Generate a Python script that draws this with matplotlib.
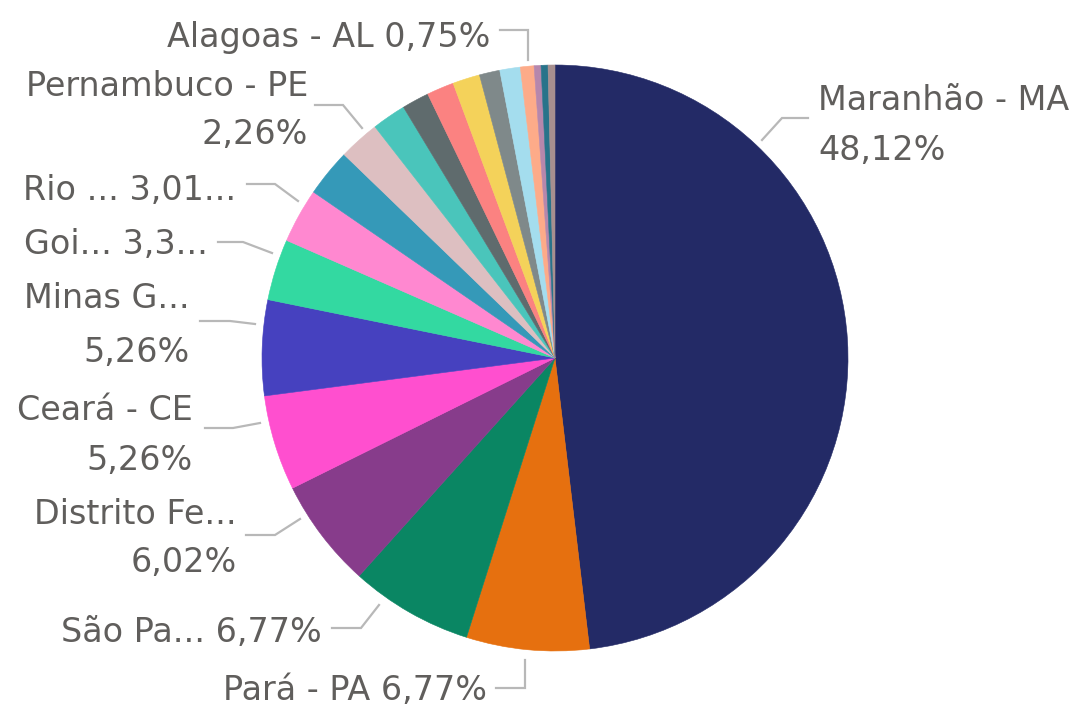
import matplotlib
matplotlib.use("Agg")
import matplotlib.pyplot as plt

# ---------------- data ----------------
states = ["Maranhão - MA", "Pará - PA", "São Paulo - SP", "Distrito Federal - DF",
          "Ceará - CE", "Minas Gerais - MG", "Goiás - GO", "Rio de Janeiro - RJ",
          "UF 9", "Pernambuco - PE", "UF 11", "UF 12", "UF 13", "UF 14", "UF 15",
          "UF 16", "Alagoas - AL", "UF 18", "UF 19", "UF 20"]
percent = [48.12, 6.77, 6.77, 6.02, 5.26, 5.26, 3.38, 3.01, 2.63, 2.26,
           1.88, 1.50, 1.50, 1.50, 1.13, 1.13, 0.75, 0.38, 0.38, 0.38]
colors = ["#232A66", "#E6700F", "#0A8663", "#873C8B", "#FF4FCF", "#4641BF",
          "#33D9A1", "#FF88D0", "#3599B8", "#DDBFC1", "#4AC5BB", "#5F6B6D",
          "#FB8281", "#F4D25A", "#7F898A", "#A4DDEE", "#FDAB89", "#B687AC",
          "#28738A", "#A78F8F"]
# displayed (truncated) label lines, per slice index
label_lines = {
    0: ["Maranhão - MA", "48,12%"],
    1: ["Pará - PA 6,77%"],
    2: ["São Pa... 6,77%"],
    3: ["Distrito Fe...", "6,02%"],
    4: ["Ceará - CE", "5,26%"],
    5: ["Minas G...", "5,26%"],
    6: ["Goi... 3,3..."],
    7: ["Rio ... 3,01..."],
    9: ["Pernambuco - PE", "2,26%"],
    16: ["Alagoas - AL 0,75%"],
}

# ---------------- layout (pixel coordinates, y from top) ----------------
W, H = 1085, 709
CENTER = (555, 358)
RADIUS = 293
# text anchor: (x, [y per line], ha)
text_pos = {
    0: (818, [101, 150], "left"),
    1: (487, [690], "right"),
    2: (322, [632], "right"),
    3: (237, [514, 563], "right"),
    4: (193, [410, 461], "right"),
    5: (190, [299, 352], "right"),
    6: (208, [245], "right"),
    7: (236, [190], "right"),
    9: (308, [86, 135], "right"),
    16: (490, [37], "right"),
}
leaders = {
    0: [(808, 118), (782, 118), (762, 140)],
    1: [(496, 688), (525, 688), (525, 660)],
    2: [(332, 628), (361, 628), (379, 605)],
    3: [(246, 535), (275, 535), (300, 519)],
    4: [(205, 428), (233, 428), (260, 423)],
    5: [(200, 321), (230, 321), (255, 324)],
    6: [(218, 242), (243, 242), (272, 253)],
    7: [(247, 184), (275, 184), (298, 201)],
    9: [(315, 105), (343, 105), (362, 128)],
    16: [(500, 30), (528, 30), (528, 60)],
}
TEXT_COLOR = "#605E5C"
LINE_COLOR = "#B8B8B8"
FONT = ["DejaVu Sans"]
FONT_SIZE = 24

fig = plt.figure(figsize=(W / 100, H / 100), dpi=100)
ax = fig.add_axes([0, 0, 1, 1])


def Y(y):
    return H - y


wedges, _ = ax.pie(percent, colors=colors, startangle=90, counterclock=False,
                   center=(CENTER[0], Y(CENTER[1])), radius=RADIUS)
for w, c in zip(wedges, colors):
    w.set_edgecolor(c)
    w.set_linewidth(0.4)
ax.set_xlim(0, W)
ax.set_ylim(0, H)
ax.set_aspect("equal")
ax.axis("off")

for i, lines in label_lines.items():
    x, ys, ha = text_pos[i]
    for line, y in zip(lines, ys):
        ax.text(x, Y(y), line, ha=ha, va="center", color=TEXT_COLOR,
                fontsize=FONT_SIZE, family=FONT)
    pts = leaders[i]
    ax.plot([p[0] for p in pts], [Y(p[1]) for p in pts], color=LINE_COLOR,
            lw=1.6, solid_joinstyle="miter", zorder=0)

fig.savefig("out.png", dpi=100, facecolor="white")
